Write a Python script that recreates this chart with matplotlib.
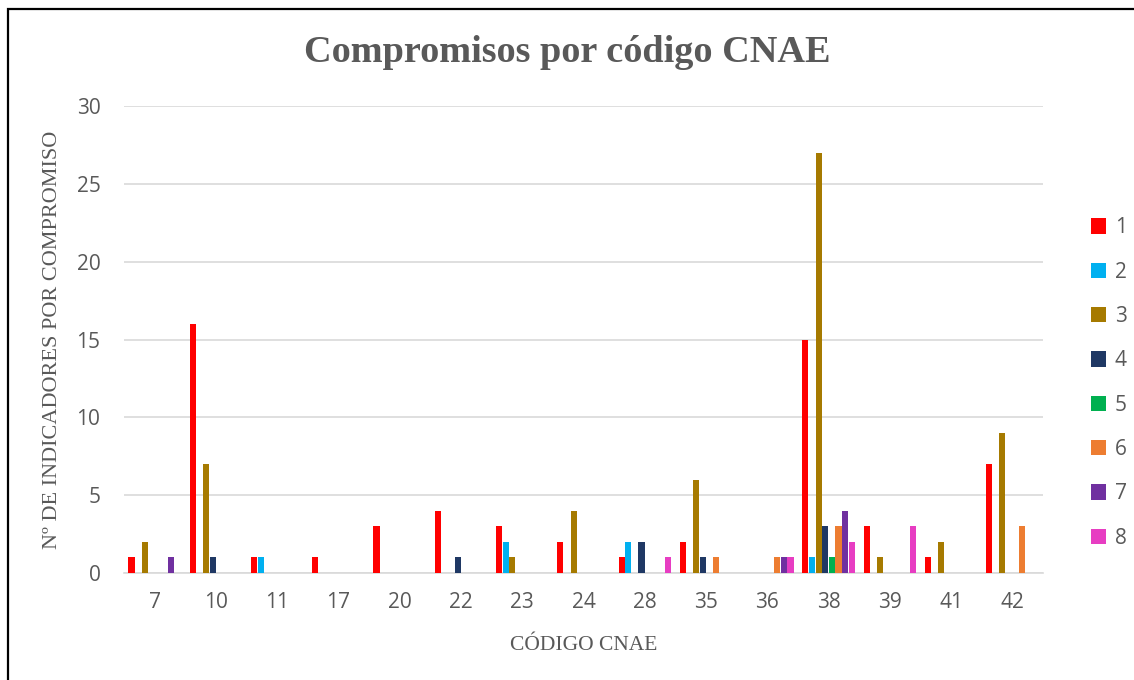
import numpy as np
import matplotlib.pyplot as plt
from matplotlib.patches import Patch, Rectangle

categories = ["7", "10", "11", "17", "20", "22", "23", "24", "28", "35", "36", "38", "39", "41", "42"]
series_names = ["1", "2", "3", "4", "5", "6", "7", "8"]
s1 = [1, 16, 1, 1, 3, 4, 3, 2, 1, 2, 0, 15, 3, 1, 7]
s2 = [0, 0, 1, 0, 0, 0, 2, 0, 2, 0, 0, 1, 0, 0, 0]
s3 = [2, 7, 0, 0, 0, 0, 1, 4, 0, 6, 0, 27, 1, 2, 9]
s4 = [0, 1, 0, 0, 0, 1, 0, 0, 2, 1, 0, 3, 0, 0, 0]
s5 = [0, 0, 0, 0, 0, 0, 0, 0, 0, 0, 0, 1, 0, 0, 0]
s6 = [0, 0, 0, 0, 0, 0, 0, 0, 0, 1, 1, 3, 0, 0, 3]
s7 = [1, 0, 0, 0, 0, 0, 0, 0, 0, 0, 1, 4, 0, 0, 0]
s8 = [0, 0, 0, 0, 0, 0, 0, 0, 1, 0, 1, 2, 3, 0, 0]
series = [s1, s2, s3, s4, s5, s6, s7, s8]

colors = ["#FF0000", "#00B0F0", "#A67A00", "#1F3864", "#00B050", "#ED7D31", "#7030A0", "#E73DC2"]
GRAY = "#595959"

fig = plt.figure(figsize=(11.34, 6.80), dpi=100)
ax = fig.add_axes([124 / 1134, 107 / 680, 919 / 1134, 467 / 680])

x = np.arange(len(categories))
slot = 0.108
for i, (vals, col) in enumerate(zip(series, colors)):
    ax.bar(x + (i - 3.5) * slot, vals, width=slot * 0.92, color=col, label=series_names[i],
           linewidth=0, zorder=3)

ax.set_xlim(-0.5, len(categories) - 0.5)
ax.set_ylim(0, 30)
ax.set_yticks(range(0, 31, 5))
ax.set_xticks(x)
ax.set_xticklabels(categories)
ax.grid(axis="y", color="#D9D9D9", linewidth=1.2, zorder=0)
for side in ["top", "right", "left"]:
    ax.spines[side].set_visible(False)
ax.spines["bottom"].set_color("#D9D9D9")
ax.spines["bottom"].set_linewidth(1.2)
ax.tick_params(axis="both", length=0, labelsize=15, labelcolor=GRAY)
ax.tick_params(axis="y", pad=17)
ax.tick_params(axis="x", pad=14)
for lbl in ax.get_xticklabels() + ax.get_yticklabels():
    lbl.set_fontfamily("Open Sans")

ax.set_ylabel("Nº DE INDICADORES POR COMPROMISO", fontsize=16, color=GRAY,
              family="Liberation Serif", labelpad=10)
ax.set_xlabel("CÓDIGO CNAE", fontsize=15.5, color=GRAY, family="Liberation Serif", labelpad=16)

fig.text(0.5, 1 - 52 / 680, "Compromisos por código CNAE", ha="center", va="center",
         fontsize=27.5, fontweight="bold", color=GRAY, family="Liberation Serif")

handles = [Patch(facecolor=c, edgecolor="none") for c in colors]
leg = fig.legend(handles, series_names, loc="center left", bbox_to_anchor=(1072 / 1134, 1 - 383 / 680),
                 frameon=False, handlelength=0.75, handleheight=0.75, handletextpad=0.4,
                 labelspacing=1.12, prop={"family": "Open Sans", "size": 15})
for t in leg.get_texts():
    t.set_color(GRAY)

fig.patches.append(Rectangle((8 / 1134, -0.1), 1.2, 1.1 - 9 / 680, transform=fig.transFigure,
                             fill=False, edgecolor="black", linewidth=1.6))

fig.savefig("out.png", dpi=100)
